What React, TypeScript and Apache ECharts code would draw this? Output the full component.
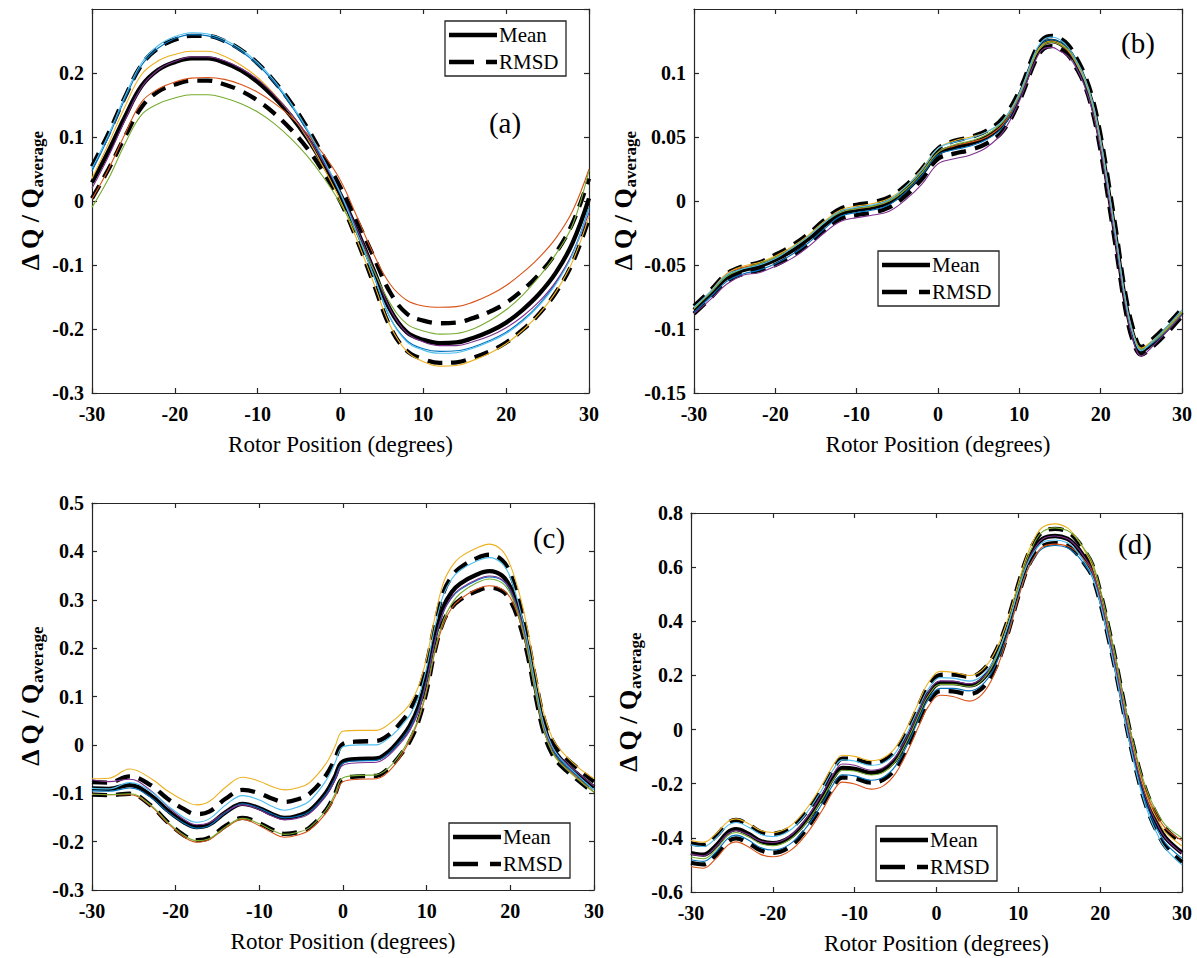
import React, { useEffect, useRef } from "react";
import * as echarts from "echarts";

// ---------------- DATA ----------------
// Panel (a)
const xA = [-30, -28, -26, -24, -22, -20, -18, -16, -14, -12, -10, -8, -6, -4, -2, 0, 2, 4, 6, 8, 10, 12, 14, 16, 18, 20, 22, 24, 26, 28, 30];
const meanA = [0.029, 0.078, 0.132, 0.180, 0.205, 0.217, 0.223, 0.223, 0.216, 0.204, 0.186, 0.162, 0.133, 0.098, 0.056, 0.010, -0.046, -0.108, -0.170, -0.205, -0.217, -0.222, -0.221, -0.214, -0.204, -0.190, -0.170, -0.145, -0.112, -0.066, 0.004];
const rmsdA = [0.025, 0.028, 0.031, 0.033, 0.034, 0.035, 0.035, 0.035, 0.034, 0.032, 0.029, 0.025, 0.021, 0.016, 0.012, 0.011, 0.015, 0.021, 0.027, 0.029, 0.030, 0.031, 0.031, 0.031, 0.031, 0.031, 0.031, 0.031, 0.031, 0.031, 0.031];
const blueA = [0.047, 0.100, 0.160, 0.212, 0.239, 0.254, 0.260, 0.258, 0.249, 0.234, 0.213, 0.185, 0.150, 0.109, 0.062, 0.010, -0.051, -0.117, -0.183, -0.218, -0.231, -0.235, -0.234, -0.228, -0.218, -0.205, -0.186, -0.161, -0.128, -0.082, -0.010];
const orangeA = [0.003, 0.050, 0.105, 0.155, 0.175, 0.186, 0.192, 0.193, 0.190, 0.182, 0.170, 0.153, 0.132, 0.105, 0.072, 0.032, -0.025, -0.083, -0.130, -0.155, -0.164, -0.166, -0.165, -0.158, -0.147, -0.132, -0.112, -0.088, -0.058, -0.016, 0.050];
const yellowA = [0.035, 0.090, 0.148, 0.198, 0.219, 0.229, 0.234, 0.234, 0.226, 0.212, 0.193, 0.167, 0.136, 0.098, 0.051, 0.000, -0.061, -0.128, -0.195, -0.235, -0.251, -0.258, -0.257, -0.249, -0.238, -0.223, -0.202, -0.176, -0.142, -0.095, -0.024];
const purpleA = [0.020, 0.070, 0.127, 0.178, 0.205, 0.218, 0.225, 0.225, 0.219, 0.207, 0.190, 0.166, 0.137, 0.101, 0.059, 0.012, -0.044, -0.106, -0.169, -0.206, -0.220, -0.226, -0.226, -0.220, -0.211, -0.198, -0.180, -0.157, -0.126, -0.082, -0.018];
const greenA = [-0.010, 0.035, 0.090, 0.135, 0.152, 0.161, 0.166, 0.166, 0.161, 0.152, 0.139, 0.121, 0.098, 0.070, 0.036, -0.004, -0.052, -0.108, -0.160, -0.192, -0.203, -0.208, -0.207, -0.200, -0.187, -0.170, -0.147, -0.118, -0.083, -0.038, 0.048];
const lightBlueA = [0.051, 0.104, 0.164, 0.216, 0.243, 0.257, 0.263, 0.261, 0.252, 0.237, 0.216, 0.188, 0.153, 0.112, 0.064, 0.012, -0.050, -0.116, -0.182, -0.220, -0.233, -0.238, -0.237, -0.230, -0.220, -0.207, -0.188, -0.163, -0.130, -0.084, -0.012];

// Panel (b)
const xB = [-30, -28, -26, -24, -22, -20, -18, -16, -14, -12, -10, -8, -6, -4, -2, 0, 2, 4, 6, 8, 10, 12, 13, 14, 15, 16, 17, 18, 19, 20, 21, 22, 23, 24, 25, 26, 28, 30];
const meanB = [-0.085, -0.073, -0.060, -0.054, -0.051, -0.046, -0.039, -0.030, -0.019, -0.010, -0.007, -0.005, -0.001, 0.008, 0.021, 0.037, 0.042, 0.045, 0.050, 0.060, 0.082, 0.114, 0.123, 0.125, 0.123, 0.118, 0.108, 0.095, 0.075, 0.045, 0.006, -0.035, -0.077, -0.105, -0.117, -0.113, -0.101, -0.087];
const rmsdB = [0.003, 0.003, 0.003, 0.003, 0.003, 0.004, 0.004, 0.004, 0.004, 0.004, 0.004, 0.004, 0.004, 0.004, 0.004, 0.004, 0.005, 0.005, 0.005, 0.005, 0.004, 0.004, 0.004, 0.004, 0.004, 0.004, 0.004, 0.004, 0.005, 0.006, 0.007, 0.007, 0.006, 0.005, 0.003, 0.003, 0.003, 0.003];
const blueB = [-0.087, -0.075, -0.063, -0.057, -0.054, -0.049, -0.042, -0.033, -0.022, -0.012, -0.009, -0.007, -0.003, 0.007, 0.020, 0.036, 0.040, 0.043, 0.048, 0.058, 0.081, 0.114, 0.124, 0.126, 0.124, 0.118, 0.107, 0.094, 0.074, 0.044, 0.005, -0.036, -0.078, -0.105, -0.116, -0.113, -0.102, -0.088];
const orangeB = [-0.083, -0.071, -0.057, -0.052, -0.049, -0.044, -0.037, -0.028, -0.017, -0.008, -0.006, -0.004, 0.000, 0.009, 0.022, 0.038, 0.043, 0.046, 0.050, 0.060, 0.082, 0.114, 0.122, 0.124, 0.122, 0.117, 0.108, 0.096, 0.077, 0.048, 0.009, -0.032, -0.075, -0.103, -0.115, -0.112, -0.101, -0.087];
const yellowB = [-0.084, -0.071, -0.057, -0.051, -0.048, -0.043, -0.036, -0.027, -0.016, -0.007, -0.004, -0.002, 0.002, 0.011, 0.025, 0.041, 0.047, 0.050, 0.054, 0.063, 0.084, 0.115, 0.123, 0.125, 0.123, 0.118, 0.108, 0.095, 0.075, 0.044, 0.004, -0.037, -0.078, -0.104, -0.115, -0.111, -0.100, -0.086];
const purpleB = [-0.088, -0.077, -0.065, -0.058, -0.056, -0.051, -0.045, -0.036, -0.025, -0.016, -0.013, -0.011, -0.008, 0.001, 0.013, 0.029, 0.033, 0.036, 0.042, 0.054, 0.078, 0.110, 0.119, 0.120, 0.117, 0.113, 0.104, 0.090, 0.070, 0.040, 0.002, -0.039, -0.080, -0.109, -0.121, -0.116, -0.103, -0.089];
const greenB = [-0.084, -0.072, -0.059, -0.053, -0.049, -0.044, -0.037, -0.028, -0.017, -0.009, -0.006, -0.004, 0.000, 0.009, 0.022, 0.038, 0.044, 0.047, 0.052, 0.062, 0.083, 0.114, 0.122, 0.124, 0.122, 0.118, 0.109, 0.097, 0.077, 0.047, 0.008, -0.033, -0.076, -0.104, -0.116, -0.112, -0.101, -0.087];
const lightBlueB = [-0.083, -0.071, -0.058, -0.053, -0.050, -0.045, -0.037, -0.028, -0.017, -0.008, -0.005, -0.003, 0.001, 0.011, 0.024, 0.041, 0.046, 0.049, 0.054, 0.063, 0.084, 0.117, 0.126, 0.128, 0.126, 0.120, 0.110, 0.097, 0.077, 0.047, 0.008, -0.033, -0.075, -0.104, -0.117, -0.112, -0.099, -0.085];

// Panel (c)
const xC = [-30, -28, -25.5, -23, -21, -19, -17.5, -16, -14, -12, -10, -8.5, -7, -5.5, -4, -2, -1, 0, 2, 4, 5, 6, 7, 8, 9, 10, 11, 12, 13, 14, 16, 17.5, 19, 20, 21, 22, 23, 24, 25, 26, 28, 30];
const meanC = [-0.090, -0.091, -0.083, -0.104, -0.135, -0.160, -0.170, -0.165, -0.139, -0.122, -0.131, -0.143, -0.151, -0.147, -0.136, -0.098, -0.067, -0.034, -0.029, -0.028, -0.020, -0.005, 0.015, 0.040, 0.078, 0.140, 0.223, 0.285, 0.316, 0.333, 0.352, 0.359, 0.350, 0.326, 0.278, 0.209, 0.119, 0.040, -0.005, -0.029, -0.060, -0.088];
const rmsdC = [0.013, 0.013, 0.018, 0.021, 0.024, 0.027, 0.027, 0.027, 0.028, 0.029, 0.031, 0.032, 0.033, 0.034, 0.035, 0.036, 0.036, 0.036, 0.036, 0.036, 0.035, 0.034, 0.033, 0.032, 0.030, 0.028, 0.027, 0.030, 0.032, 0.033, 0.034, 0.034, 0.032, 0.028, 0.022, 0.018, 0.016, 0.015, 0.014, 0.013, 0.012, 0.012];
const blueC = [-0.095, -0.096, -0.089, -0.108, -0.138, -0.162, -0.172, -0.167, -0.140, -0.122, -0.131, -0.143, -0.151, -0.148, -0.138, -0.101, -0.071, -0.038, -0.033, -0.032, -0.024, -0.009, 0.011, 0.035, 0.072, 0.134, 0.215, 0.275, 0.304, 0.321, 0.340, 0.347, 0.340, 0.318, 0.273, 0.206, 0.117, 0.038, -0.008, -0.033, -0.065, -0.093];
const orangeC = [-0.102, -0.103, -0.103, -0.126, -0.161, -0.190, -0.201, -0.196, -0.171, -0.154, -0.167, -0.181, -0.191, -0.187, -0.176, -0.140, -0.109, -0.076, -0.071, -0.070, -0.062, -0.045, -0.021, 0.010, 0.050, 0.112, 0.193, 0.250, 0.283, 0.301, 0.322, 0.329, 0.322, 0.304, 0.263, 0.197, 0.109, 0.032, -0.013, -0.037, -0.068, -0.098];
const yellowC = [-0.070, -0.069, -0.050, -0.069, -0.095, -0.115, -0.124, -0.117, -0.087, -0.067, -0.075, -0.086, -0.093, -0.089, -0.078, -0.038, -0.005, 0.028, 0.030, 0.030, 0.037, 0.050, 0.065, 0.085, 0.120, 0.180, 0.265, 0.335, 0.369, 0.388, 0.407, 0.415, 0.402, 0.371, 0.318, 0.244, 0.149, 0.065, 0.015, -0.011, -0.045, -0.070];
const purpleC = [-0.072, -0.076, -0.071, -0.094, -0.127, -0.154, -0.165, -0.161, -0.138, -0.124, -0.134, -0.147, -0.155, -0.152, -0.142, -0.105, -0.075, -0.042, -0.037, -0.036, -0.028, -0.013, 0.006, 0.030, 0.068, 0.132, 0.215, 0.275, 0.306, 0.323, 0.342, 0.349, 0.342, 0.321, 0.275, 0.207, 0.119, 0.040, -0.005, -0.027, -0.057, -0.085];
const greenC = [-0.102, -0.103, -0.101, -0.124, -0.159, -0.187, -0.198, -0.194, -0.169, -0.152, -0.163, -0.176, -0.185, -0.181, -0.171, -0.134, -0.103, -0.068, -0.063, -0.062, -0.054, -0.038, -0.015, 0.014, 0.054, 0.116, 0.198, 0.257, 0.292, 0.313, 0.335, 0.343, 0.335, 0.313, 0.268, 0.199, 0.109, 0.030, -0.015, -0.039, -0.070, -0.098];
const lightBlueC = [-0.090, -0.091, -0.078, -0.096, -0.125, -0.150, -0.160, -0.153, -0.124, -0.105, -0.114, -0.127, -0.135, -0.129, -0.116, -0.073, -0.039, -0.004, 0.000, 0.000, 0.008, 0.022, 0.040, 0.062, 0.098, 0.160, 0.245, 0.310, 0.343, 0.361, 0.380, 0.387, 0.375, 0.346, 0.290, 0.217, 0.124, 0.043, -0.003, -0.029, -0.062, -0.093];

// Panel (d)
const xD = [-30, -28.5, -27, -25.5, -24.5, -23, -21.5, -20, -18, -16, -14, -12.5, -11.5, -10, -8, -6.5, -5, -3.5, -2, -1, 0.5, 2, 4, 5.5, 7, 8.5, 10, 11, 12, 13, 14.5, 16, 17, 18, 19, 20, 21, 22, 23, 24, 25, 26, 27, 28, 30];
const meanD = [-0.456, -0.462, -0.430, -0.380, -0.368, -0.385, -0.412, -0.420, -0.400, -0.340, -0.250, -0.172, -0.142, -0.145, -0.160, -0.150, -0.110, -0.030, 0.070, 0.130, 0.172, 0.172, 0.163, 0.183, 0.245, 0.360, 0.515, 0.610, 0.670, 0.705, 0.715, 0.705, 0.680, 0.640, 0.590, 0.490, 0.360, 0.220, 0.065, -0.075, -0.195, -0.285, -0.350, -0.400, -0.455];
const rmsdD = [0.036, 0.036, 0.035, 0.034, 0.034, 0.034, 0.034, 0.035, 0.034, 0.031, 0.030, 0.033, 0.035, 0.035, 0.036, 0.035, 0.033, 0.030, 0.030, 0.030, 0.030, 0.031, 0.032, 0.032, 0.030, 0.025, 0.022, 0.022, 0.024, 0.026, 0.026, 0.026, 0.025, 0.024, 0.022, 0.020, 0.020, 0.020, 0.020, 0.022, 0.025, 0.028, 0.030, 0.032, 0.035];
const blueD = [-0.481, -0.487, -0.454, -0.402, -0.390, -0.408, -0.436, -0.445, -0.425, -0.365, -0.275, -0.197, -0.167, -0.171, -0.187, -0.176, -0.134, -0.052, 0.049, 0.110, 0.152, 0.152, 0.143, 0.163, 0.225, 0.338, 0.490, 0.582, 0.638, 0.670, 0.680, 0.672, 0.650, 0.613, 0.565, 0.468, 0.340, 0.200, 0.045, -0.095, -0.215, -0.305, -0.370, -0.420, -0.475];
const orangeD = [-0.506, -0.512, -0.478, -0.427, -0.415, -0.433, -0.461, -0.470, -0.450, -0.390, -0.300, -0.222, -0.194, -0.201, -0.220, -0.208, -0.162, -0.078, 0.024, 0.085, 0.127, 0.122, 0.105, 0.128, 0.200, 0.325, 0.485, 0.580, 0.640, 0.675, 0.685, 0.678, 0.660, 0.628, 0.585, 0.490, 0.365, 0.230, 0.077, -0.060, -0.175, -0.260, -0.320, -0.365, -0.410];
const yellowD = [-0.410, -0.416, -0.386, -0.340, -0.330, -0.347, -0.373, -0.380, -0.359, -0.297, -0.205, -0.126, -0.095, -0.099, -0.115, -0.105, -0.066, 0.014, 0.113, 0.173, 0.215, 0.212, 0.200, 0.218, 0.277, 0.388, 0.540, 0.640, 0.708, 0.748, 0.760, 0.745, 0.713, 0.665, 0.608, 0.502, 0.370, 0.230, 0.075, -0.065, -0.183, -0.271, -0.333, -0.380, -0.430];
const purpleD = [-0.460, -0.466, -0.434, -0.385, -0.373, -0.388, -0.412, -0.417, -0.395, -0.332, -0.240, -0.159, -0.127, -0.132, -0.150, -0.140, -0.100, -0.021, 0.078, 0.138, 0.180, 0.179, 0.169, 0.188, 0.249, 0.363, 0.517, 0.611, 0.670, 0.705, 0.715, 0.705, 0.680, 0.640, 0.590, 0.490, 0.360, 0.220, 0.065, -0.075, -0.195, -0.286, -0.351, -0.402, -0.457];
const greenD = [-0.471, -0.477, -0.444, -0.392, -0.380, -0.396, -0.422, -0.429, -0.408, -0.348, -0.258, -0.180, -0.150, -0.153, -0.168, -0.158, -0.117, -0.036, 0.065, 0.125, 0.167, 0.167, 0.159, 0.180, 0.245, 0.365, 0.525, 0.625, 0.692, 0.732, 0.745, 0.735, 0.710, 0.670, 0.620, 0.520, 0.390, 0.250, 0.095, -0.043, -0.160, -0.247, -0.308, -0.354, -0.400];
const lightBlueD = [-0.426, -0.432, -0.402, -0.354, -0.343, -0.360, -0.387, -0.395, -0.374, -0.313, -0.222, -0.142, -0.112, -0.116, -0.132, -0.123, -0.085, -0.007, 0.091, 0.150, 0.192, 0.190, 0.179, 0.197, 0.255, 0.365, 0.515, 0.605, 0.660, 0.692, 0.700, 0.690, 0.664, 0.622, 0.570, 0.468, 0.335, 0.193, 0.037, -0.105, -0.227, -0.320, -0.388, -0.440, -0.500];

// Axis ticks / labels
const xMin = -30;
const xMax = 30;
const xStep = 10;
const yRanges = [
  { min: -0.3, max: 0.3, step: 0.1, hideMax: true },
  { min: -0.15, max: 0.15, step: 0.05, hideMax: true },
  { min: -0.3, max: 0.5, step: 0.1, hideMax: false },
  { min: -0.6, max: 0.8, step: 0.2, hideMax: false },
];
const panelLetters = ["(a)", "(b)", "(c)", "(d)"];
const xTitle = "Rotor Position (degrees)";
const yTitle = "{m|\u0394 Q / Q}{s|average}";
const legendNames = ["Mean", "RMSD"];

// ---------------- STYLE / LAYOUT ----------------
const SERIF = '"Liberation Serif", "Times New Roman", serif';
const RUN_COLORS = ["#0072BD", "#D95319", "#EDB120", "#7E2F8E", "#77AC30", "#4DBEEE"];
const AXIS_COLOR = "#262626";
const SMOOTH = 0.4;

const GRIDS = [
  { left: 92, top: 9, width: 497, height: 384 },
  { left: 694, top: 9, width: 488, height: 384 },
  { left: 92, top: 503, width: 502, height: 387 },
  { left: 691, top: 513, width: 491, height: 379 },
];
const Y_NAME_GAP = [46, 55, 46, 47];
const LEGEND_POS = [
  { left: 445, top: 21 },
  { left: 878, top: 251 },
  { left: 449, top: 823 },
  { left: 876, top: 826 },
];
const LETTER_POS = [
  { x: 505, y: 123 },
  { x: 1138, y: 43 },
  { x: 549, y: 538 },
  { x: 1135, y: 544 },
];

const panels = [
  { x: xA, mean: meanA, rmsd: rmsdA, runs: [blueA, orangeA, yellowA, purpleA, greenA, lightBlueA] },
  { x: xB, mean: meanB, rmsd: rmsdB, runs: [blueB, orangeB, yellowB, purpleB, greenB, lightBlueB] },
  { x: xC, mean: meanC, rmsd: rmsdC, runs: [blueC, orangeC, yellowC, purpleC, greenC, lightBlueC] },
  { x: xD, mean: meanD, rmsd: rmsdD, runs: [blueD, orangeD, yellowD, purpleD, greenD, lightBlueD] },
];

function pairs(xs: number[], ys: number[]) {
  return xs.map((x, i) => [x, ys[i]]);
}

function buildOption() {
  const xAxis: any[] = [];
  const yAxis: any[] = [];
  const series: any[] = [];
  const graphic: any[] = [];

  GRIDS.forEach((_, gi) => {
    const yr = yRanges[gi];
    const baseLine = { show: true, onZero: false, lineStyle: { color: AXIS_COLOR, width: 1.2 } };
    const tick = { show: true, inside: true, length: 5, lineStyle: { color: AXIS_COLOR, width: 1.2 } };
    xAxis.push({
      type: "value",
      gridIndex: gi,
      position: "bottom",
      min: xMin,
      max: xMax,
      interval: xStep,
      axisLine: baseLine,
      axisTick: tick,
      splitLine: { show: false },
      axisLabel: { margin: 11, color: "#000", fontFamily: SERIF, fontWeight: "bold", fontSize: 20 },
      name: xTitle,
      nameLocation: "middle",
      nameGap: 40,
      nameTextStyle: { color: "#000", fontFamily: SERIF, fontSize: 23 },
    });
    xAxis.push({
      type: "value",
      gridIndex: gi,
      position: "top",
      min: xMin,
      max: xMax,
      interval: xStep,
      axisLine: baseLine,
      axisTick: tick,
      splitLine: { show: false },
      axisLabel: { show: false },
    });
    yAxis.push({
      type: "value",
      gridIndex: gi,
      position: "left",
      min: yr.min,
      max: yr.max,
      interval: yr.step,
      axisLine: baseLine,
      axisTick: tick,
      splitLine: { show: false },
      axisLabel: {
        margin: 8,
        color: "#000",
        fontFamily: SERIF,
        fontWeight: "bold",
        fontSize: 20,
        showMaxLabel: !yr.hideMax,
      },
      name: yTitle,
      nameLocation: "middle",
      nameRotate: 90,
      nameGap: Y_NAME_GAP[gi],
      nameTextStyle: {
        color: "#000",
        fontFamily: SERIF,
        rich: {
          m: { fontSize: 26, fontWeight: "bold", fontFamily: SERIF, color: "#000" },
          s: { fontSize: 17, fontWeight: "bold", fontFamily: SERIF, color: "#000", padding: [14, 0, 0, 0] },
        },
      },
    });
    yAxis.push({
      type: "value",
      gridIndex: gi,
      position: "right",
      min: yr.min,
      max: yr.max,
      interval: yr.step,
      axisLine: baseLine,
      axisTick: tick,
      splitLine: { show: false },
      axisLabel: { show: false },
    });

    const p = panels[gi];
    const xi = gi * 2;
    const yi = gi * 2;
    series.push({
      type: "line",
      name: legendNames[0],
      xAxisIndex: xi,
      yAxisIndex: yi,
      data: pairs(p.x, p.mean),
      symbol: "none",
      smooth: SMOOTH,
      silent: true,
      lineStyle: { color: "#000", width: 4.3 },
      z: 2,
    });
    const upper = p.mean.map((m, i) => +(m + p.rmsd[i]).toFixed(4));
    const lower = p.mean.map((m, i) => +(m - p.rmsd[i]).toFixed(4));
    [upper, lower].forEach((band) => {
      series.push({
        type: "line",
        name: legendNames[1],
        xAxisIndex: xi,
        yAxisIndex: yi,
        data: pairs(p.x, band),
        symbol: "none",
        smooth: SMOOTH,
        silent: true,
        lineStyle: { color: "#000", width: 4.3, type: [15, 9] },
        z: 3,
      });
    });
    p.runs.forEach((run, ri) => {
      series.push({
        type: "line",
        name: "run" + (ri + 1),
        xAxisIndex: xi,
        yAxisIndex: yi,
        data: pairs(p.x, run),
        symbol: "none",
        smooth: SMOOTH,
        silent: true,
        lineStyle: { color: RUN_COLORS[ri], width: 1.1 },
        z: 4,
      });
    });

    // legend box
    const L = LEGEND_POS[gi];
    graphic.push(
      {
        type: "rect",
        shape: { x: L.left, y: L.top, width: 121, height: 55 },
        style: { fill: "#fff", stroke: AXIS_COLOR, lineWidth: 1.3 },
        z: 100,
      },
      {
        type: "line",
        shape: { x1: L.left + 4, y1: L.top + 14, x2: L.left + 52, y2: L.top + 14 },
        style: { stroke: "#000", lineWidth: 4.5 },
        z: 101,
      },
      {
        type: "line",
        shape: { x1: L.left + 4, y1: L.top + 41, x2: L.left + 29, y2: L.top + 41 },
        style: { stroke: "#000", lineWidth: 4.5 },
        z: 101,
      },
      {
        type: "line",
        shape: { x1: L.left + 41, y1: L.top + 41, x2: L.left + 52, y2: L.top + 41 },
        style: { stroke: "#000", lineWidth: 4.5 },
        z: 101,
      },
      {
        type: "text",
        x: L.left + 54,
        y: L.top + 14,
        style: { text: legendNames[0], fontSize: 21, fontFamily: SERIF, fill: "#000", align: "left", verticalAlign: "middle" },
        z: 101,
      },
      {
        type: "text",
        x: L.left + 54,
        y: L.top + 41,
        style: { text: legendNames[1], fontSize: 21, fontFamily: SERIF, fill: "#000", align: "left", verticalAlign: "middle" },
        z: 101,
      }
    );
    const P = LETTER_POS[gi];
    graphic.push({
      type: "text",
      x: P.x,
      y: P.y,
      style: { text: panelLetters[gi], fontSize: 29, fontFamily: SERIF, fill: "#000", align: "center", verticalAlign: "middle" },
      z: 101,
    });
  });

  return {
    animation: false,
    backgroundColor: "#fff",
    grid: GRIDS.map((g) => ({ ...g, containLabel: false, show: false })),
    xAxis,
    yAxis,
    series,
    graphic,
  };
}

export default function App() {
  const ref = useRef<HTMLDivElement>(null);
  useEffect(() => {
    if (!ref.current) return;
    const chart = echarts.init(ref.current, undefined, { renderer: "svg" });
    chart.setOption(buildOption() as any);
    return () => chart.dispose();
  }, []);
  return (
    <div
      ref={ref}
      style={{ position: "absolute", left: 0, top: 0, width: 1197, height: 958, background: "#fff" }}
    />
  );
}
